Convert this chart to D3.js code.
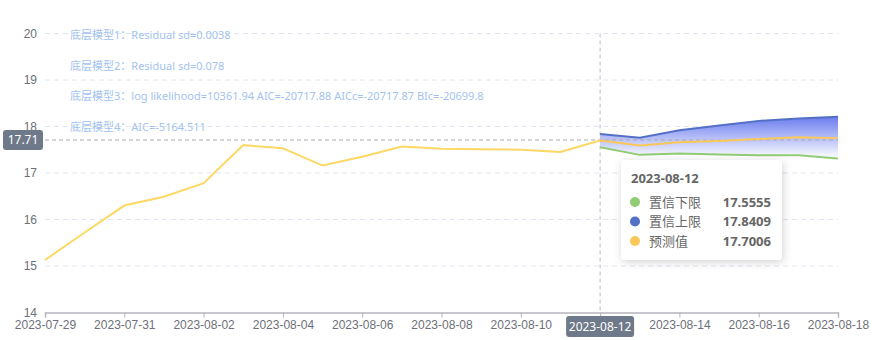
<!DOCTYPE html>
<html><head><meta charset="utf-8">
<script src="https://cdn.jsdelivr.net/npm/d3@7"></script>
<style>
html,body{margin:0;padding:0;background:#fff;}
svg{display:block;font-family:"Noto Sans","Noto Sans CJK SC",sans-serif;}
</style></head>
<body><svg id="c" width="874" height="340"></svg>
<script>
const histDates = ["2023-07-29","2023-07-30","2023-07-31","2023-08-01","2023-08-02","2023-08-03","2023-08-04","2023-08-05","2023-08-06","2023-08-07","2023-08-08","2023-08-09","2023-08-10","2023-08-11","2023-08-12"];
const histValues = [15.13,15.72,16.30,16.49,16.78,17.60,17.53,17.16,17.35,17.57,17.52,17.51,17.50,17.45,17.7006];
const fcDates = ["2023-08-12","2023-08-13","2023-08-14","2023-08-15","2023-08-16","2023-08-17","2023-08-18"];
const fcLower = [17.5555,17.39,17.42,17.40,17.38,17.38,17.31];
const fcUpper = [17.8409,17.76,17.92,18.02,18.12,18.17,18.21];
const fcPred = [17.7006,17.59,17.66,17.69,17.73,17.77,17.75];
const yTicks = [14,15,16,17,18,19,20];
const xTickLabels = ["2023-07-29","2023-07-31","2023-08-02","2023-08-04","2023-08-06","2023-08-08","2023-08-10","2023-08-12","2023-08-14","2023-08-16","2023-08-18"];
const notes = ["底层模型1：Residual sd=0.0038","底层模型2：Residual sd=0.078","底层模型3：log likelihood=10361.94 AIC=-20717.88 AICc=-20717.87 BIc=-20699.8","底层模型4：AIC=-5164.511"];
const tipDate = "2023-08-12";
const tipNames = ["置信下限","置信上限","预测值"];
const tipValues = ["17.5555","17.8409","17.7006"];
const pointerY = 17.71;

const svg = d3.select("#c");
const parse = d3.timeParse("%Y-%m-%d");
const fmt = d3.timeFormat("%Y-%m-%d");
const L = 45, R = 838, T = 33.5, B = 312.5;
const x = d3.scaleTime().domain([parse("2023-07-29"), parse("2023-08-18")]).range([L, R]);
const y = d3.scaleLinear().domain([14, 20]).range([B, T]);
const cBlue = "#5470c6", cGreen = "#91cc75", cYellow = "#fac858";

// grid
svg.append("g").selectAll("line").data(yTicks.filter(d => d > 14)).join("line")
  .attr("x1", L).attr("x2", R).attr("y1", d => y(d)).attr("y2", d => y(d))
  .attr("stroke", "#e0e6f1").attr("stroke-dasharray", "5,4");

// y labels
const yAxis = d3.axisLeft(y).tickValues(yTicks).tickSize(0).tickPadding(8).tickFormat(d3.format("d"));
const yg = svg.append("g").attr("transform", `translate(${L},0)`).call(yAxis);
yg.select(".domain").remove();
yg.selectAll("text").attr("fill", "#6e7079").style("font-size", "12px");

// x axis
const xAxis = d3.axisBottom(x).tickValues(xTickLabels.map(parse)).tickSize(5).tickPadding(3)
  .tickFormat(d => fmt(d) === tipDate ? "" : fmt(d));
const xg = svg.append("g").attr("transform", `translate(0,${B})`).call(xAxis);
xg.select(".domain").attr("stroke", "#b4b6bd").attr("stroke-width", 1.5);
xg.selectAll(".tick line").attr("stroke", "#b4b6bd");
xg.selectAll("text").attr("fill", "#6e7079").style("font-size", "12px");

// notes
svg.append("g").selectAll("text").data(notes).join("text")
  .attr("x", 70).attr("y", (d, i) => 39 + i * 30.6)
  .attr("fill", "#a3c3f0").style("font-size", "11px").text(d => d);

// band gradient
const defs = svg.append("defs");
const grad = defs.append("linearGradient").attr("id", "bandG").attr("x1", 0).attr("x2", 0)
  .attr("gradientUnits", "userSpaceOnUse").attr("y1", y(d3.max(fcUpper))).attr("y2", y(d3.min(fcLower)));
grad.append("stop").attr("offset", "0%").attr("stop-color", "#6a7cee");
grad.append("stop").attr("offset", "100%").attr("stop-color", "#ffffff");

const fc = fcDates.map((d, i) => ({ t: parse(d), lo: fcLower[i], up: fcUpper[i], p: fcPred[i] }));
svg.append("path").datum(fc)
  .attr("d", d3.area().x(d => x(d.t)).y0(d => y(d.lo)).y1(d => y(d.up)))
  .attr("fill", "url(#bandG)");

// pointer lines
svg.append("line").attr("x1", x(parse(tipDate))).attr("x2", x(parse(tipDate))).attr("y1", T).attr("y2", B)
  .attr("stroke", "#b8bcc8").attr("stroke-dasharray", "4,3");
svg.append("line").attr("x1", L).attr("x2", R).attr("y1", y(pointerY)).attr("y2", y(pointerY))
  .attr("stroke", "#a8abb2").attr("stroke-dasharray", "4,3");

// lines
const line = (acc) => d3.line().x(d => x(d.t)).y(d => y(acc(d)));
svg.append("path").datum(fc).attr("d", line(d => d.up)).attr("fill", "none").attr("stroke", cBlue).attr("stroke-width", 2);
svg.append("path").datum(fc).attr("d", line(d => d.lo)).attr("fill", "none").attr("stroke", cGreen).attr("stroke-width", 2);
svg.append("path").datum(fc).attr("d", line(d => d.p)).attr("fill", "none").attr("stroke", cYellow).attr("stroke-width", 2);
const hist = histDates.map((d, i) => ({ t: parse(d), v: histValues[i] }));
svg.append("path").datum(hist).attr("d", line(d => d.v)).attr("fill", "none").attr("stroke", "#fdd865").attr("stroke-width", 2);

// axis pointer labels
const yl = svg.append("g");
yl.append("rect").attr("x", 3).attr("y", y(pointerY) - 10).attr("width", 40).attr("height", 20).attr("rx", 3).attr("fill", "#6e7989");
yl.append("text").attr("x", 23).attr("y", y(pointerY) + 4.5).attr("text-anchor", "middle").attr("fill", "#fff").style("font-size", "12px").text(pointerY.toFixed(2));
const xl = svg.append("g");
const px = x(parse(tipDate));
xl.append("rect").attr("x", px - 34).attr("y", 316).attr("width", 68).attr("height", 21).attr("rx", 3).attr("fill", "#6e7989");
xl.append("text").attr("x", px).attr("y", 331).attr("text-anchor", "middle").attr("fill", "#fff").style("font-size", "12px").text(tipDate);

// tooltip
const filt = defs.append("filter").attr("id", "sh").attr("x", "-20%").attr("y", "-20%").attr("width", "140%").attr("height", "140%");
filt.append("feDropShadow").attr("dx", 1).attr("dy", 2).attr("stdDeviation", 4).attr("flood-color", "#000").attr("flood-opacity", 0.18);
const tip = svg.append("g").attr("transform", "translate(621,160)");
tip.append("rect").attr("width", 161).attr("height", 100).attr("rx", 4).attr("fill", "#fff").attr("filter", "url(#sh)");
tip.append("text").attr("x", 10).attr("y", 23).attr("fill", "#666").style("font-size", "13px").style("font-weight", "bold").text(tipDate);
const cols = [cGreen, cBlue, cYellow];
tipNames.forEach((n, i) => {
  const cy = 42 + i * 19.5;
  tip.append("circle").attr("cx", 14).attr("cy", cy).attr("r", 5).attr("fill", cols[i]);
  tip.append("text").attr("x", 28).attr("y", cy + 4.5).attr("fill", "#666").style("font-size", "13px").text(n);
  tip.append("text").attr("x", 150).attr("y", cy + 4.5).attr("text-anchor", "end").attr("fill", "#666").style("font-size", "13px").style("font-weight", "bold").text(tipValues[i]);
});
</script></body></html>
